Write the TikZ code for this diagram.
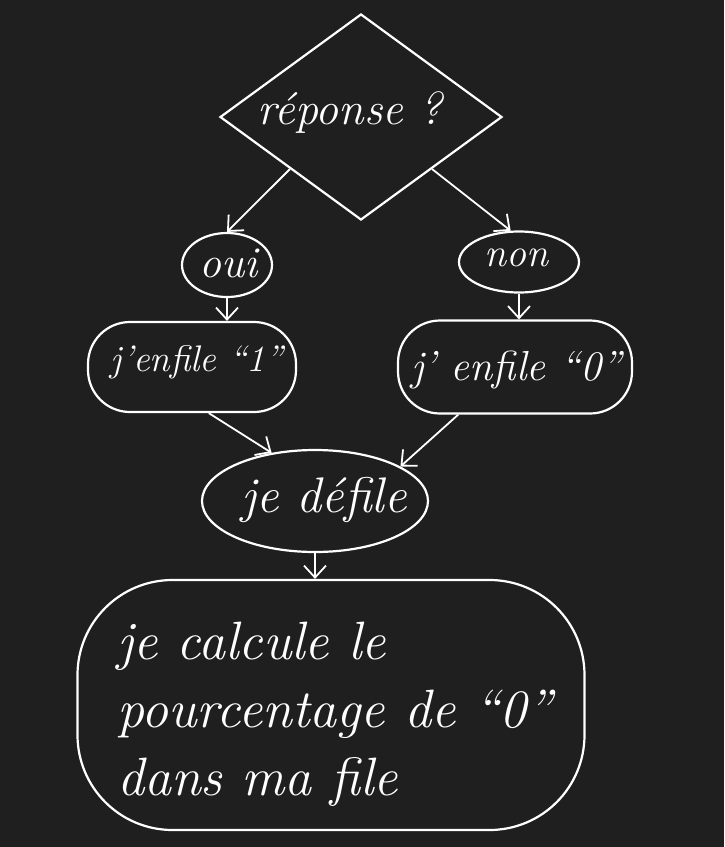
\documentclass[tikz,border=0pt]{standalone}
\usepackage{fontspec}
\usetikzlibrary{shapes.geometric,arrows.meta}
\definecolor{bg}{HTML}{1F1F1F}
\tikzset{
  ink/.style={draw=white, line width=2.2pt},
  lbl/.style={text=white, font=\itshape\fontsize{#1}{#1}\selectfont, inner sep=0pt},
  blob/.style={ink, ellipse, inner sep=0pt},
  rblob/.style={ink, rectangle, rounded corners=42pt, inner sep=0pt},
  arr/.style={white, line width=1.8pt, -{Straight Barb[length=12pt,width=22pt]}}
}
\begin{document}
\begin{tikzpicture}[x=1pt,y=-1pt]
\fill[bg] (0,0) rectangle (724,847);
\useasboundingbox (0,0) rectangle (724,847);
\node[ink, diamond, minimum width=282pt, minimum height=206pt, inner sep=0pt] (d) at (361,117) {};
\node[lbl=46] (dt) at (350,113) {réponse ?};
\node[blob, minimum width=90pt, minimum height=64pt] (oui) at (227,265) {};
\node[lbl=44] (ouit) at (229,263) {oui};
\node[blob, minimum width=120pt, minimum height=61pt] (non) at (519,262) {};
\node[lbl=40] (nont) at (516,258) {non};
\node[rblob, minimum width=208pt, minimum height=90pt] (e1) at (192,367) {};
\node[lbl=37] (e1t) at (197,362) {j'enfile “1”};
\node[rblob, minimum width=234pt, minimum height=93pt] (e0) at (515,367) {};
\node[lbl=42] (e0t) at (516,370) {j' enfile “0”};
\node[blob, minimum width=226pt, minimum height=102pt] (def) at (315,501) {};
\node[lbl=50] (deft) at (324,500) {je défile};
\node[ink, rounded corners=95pt, minimum width=507pt, minimum height=250pt, inner sep=0pt] (calc) at (331,705) {};
\node[lbl=54, align=left, anchor=north west, font=\itshape\fontsize{54}{68}\selectfont] (ct) at (117,622) {je calcule le\\pourcentage de “0”\\dans ma file};
\draw[arr] (d.south west) -- (oui.north);
\draw[arr] (d.south east) -- (non.105);
\draw[arr] (oui.south) -- (oui.south |- e1.north);
\draw[arr] (non.south) -- (non.south |- e0.north);
\draw[arr] (e1.-70) -- (def.132);
\draw[arr] (e0.-140) -- (def.22);
\draw[arr] (def.south) -- (def.south |- calc.north);
\end{tikzpicture}
\end{document}
